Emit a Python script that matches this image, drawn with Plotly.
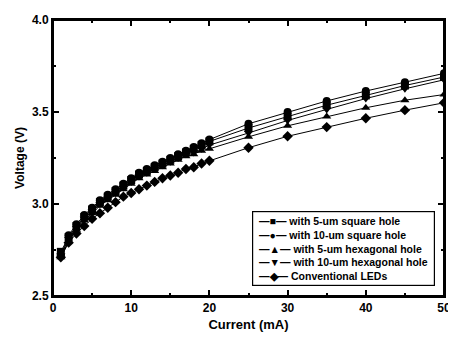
import plotly.graph_objects as go

current = [1, 2, 3, 4, 5, 6, 7, 8, 9, 10, 11, 12, 13, 14, 15, 16, 17, 18, 19, 20,
           25, 30, 35, 40, 45, 50]

sq5 = [2.74, 2.82, 2.88, 2.93, 2.97, 3.01, 3.04, 3.07, 3.10, 3.13, 3.16, 3.18, 3.20,
       3.22, 3.24, 3.26, 3.28, 3.30, 3.32, 3.34, 3.413, 3.475, 3.537, 3.59, 3.644, 3.69]
sq10 = [2.72, 2.83, 2.89, 2.94, 2.98, 3.02, 3.05, 3.08, 3.11, 3.14, 3.17, 3.19, 3.21,
        3.23, 3.25, 3.27, 3.29, 3.31, 3.33, 3.35, 3.436, 3.50, 3.56, 3.614, 3.662, 3.71]
hex5 = [2.71, 2.80, 2.86, 2.91, 2.95, 2.99, 3.02, 3.05, 3.08, 3.11, 3.14, 3.16, 3.18,
        3.20, 3.22, 3.24, 3.26, 3.27, 3.29, 3.30, 3.365, 3.425, 3.475, 3.523, 3.564, 3.595]
hex10 = [2.72, 2.81, 2.87, 2.92, 2.96, 3.00, 3.03, 3.06, 3.09, 3.12, 3.15, 3.17, 3.19,
         3.21, 3.23, 3.25, 3.27, 3.28, 3.30, 3.32, 3.386, 3.454, 3.514, 3.573, 3.626, 3.675]
conv = [2.71, 2.79, 2.84, 2.88, 2.92, 2.95, 2.98, 3.01, 3.04, 3.06, 3.08, 3.10, 3.12,
        3.14, 3.155, 3.17, 3.19, 3.20, 3.22, 3.235, 3.306, 3.368, 3.418, 3.466, 3.51, 3.55]

names = ["with 5-um square hole", "with 10-um square hole", "with 5-um hexagonal hole",
         "with 10-um hexagonal hole", "Conventional LEDs"]
values = [sq5, sq10, hex5, hex10, conv]
symbols = ["square", "circle", "triangle-up", "triangle-down", "diamond"]
glyphs = ["■", "●", "▲", "▼", "◆"]

FAM = "Liberation Sans, Arial, sans-serif"

fig = go.Figure()
for name, ys, sym in zip(names, values, symbols):
    fig.add_trace(go.Scatter(
        x=current, y=ys, name=name, mode="lines+markers", showlegend=False,
        line=dict(color="black", width=1),
        marker=dict(symbol=sym, size=8, color="black"),
    ))

tickfont = dict(family=FAM, size=12, color="#000000", weight="bold")
common = dict(
    showline=True, linecolor="#000000", linewidth=2, mirror="allticks",
    ticks="inside", ticklen=6, tickwidth=1.5, tickcolor="#000000",
    showgrid=False, zeroline=False, tickfont=tickfont,
)

fig.update_layout(
    xaxis=dict(
        range=[0, 50], dtick=10, tick0=0,
        minor=dict(dtick=5, ticks="inside", ticklen=3, tickcolor="#000000", tickwidth=1.5),
        title=dict(text="<b>Current (mA)</b>", font=dict(family=FAM, size=13, color="black"), standoff=5),
        **common,
    ),
    yaxis=dict(
        range=[2.5, 4.0], dtick=0.5, tick0=2.5, tickformat=".1f",
        minor=dict(dtick=0.25, ticks="inside", ticklen=3, tickcolor="#000000", tickwidth=1.5),
        title=dict(text="<b>Voltage (V)</b>", font=dict(family=FAM, size=12, color="black"), standoff=5),
        **common,
    ),
)

# plot frame (box around the plotting area)
fig.add_shape(type="rect", xref="paper", yref="paper", x0=0, y0=0, x1=1, y1=1,
              line=dict(color="black", width=2), fillcolor="rgba(0,0,0,0)", layer="above")

legend_text = "<br>".join(
    "<b>\u00a0\u2014" + g + "\u2014 " + n + "\u00a0</b>" for g, n in zip(glyphs, names)
)
fig.add_annotation(
    xref="paper", yref="paper", x=0.977, y=0.036, xanchor="right", yanchor="bottom",
    text=legend_text, showarrow=False, align="left",
    font=dict(family=FAM, size=10.5, color="black"),
    bordercolor="black", borderwidth=1.2, borderpad=3, bgcolor="white",
)

fig.update_layout(
    width=448, height=330,
    margin=dict(l=45, r=5, t=7, b=42),
    paper_bgcolor="white", plot_bgcolor="white",
    showlegend=False,
)

fig.write_html("out.html")
